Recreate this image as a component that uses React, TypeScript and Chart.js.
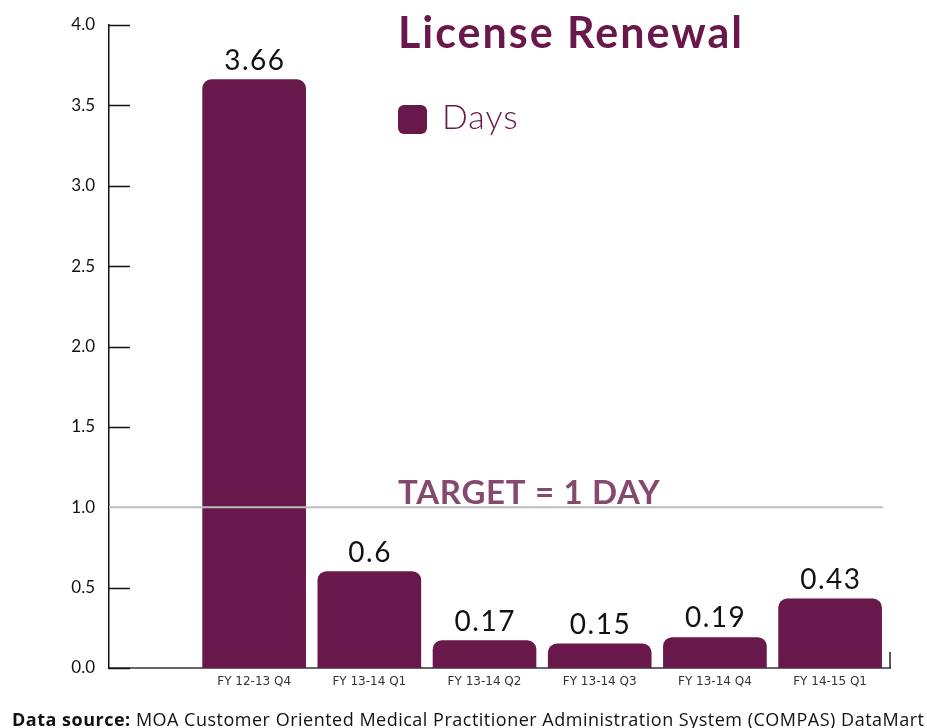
import React, { useEffect, useRef } from "react";
import { Chart, registerables } from "chart.js";

Chart.register(...registerables);

const categories = ["FY 12-13 Q4", "FY 13-14 Q1", "FY 13-14 Q2", "FY 13-14 Q3", "FY 13-14 Q4", "FY 14-15 Q1"];
const days = [3.66, 0.6, 0.17, 0.15, 0.19, 0.43];
const yTicks = [0, 0.5, 1, 1.5, 2, 2.5, 3, 3.5, 4];
const targetValue = 1;
const targetLabel = "TARGET = 1 DAY";
const titleText = "License Renewal";
const seriesName = "Days";
const sourceLabel = "Data source:";
const sourceText = "MOA Customer Oriented Medical Practitioner Administration System (COMPAS) DataMart";

const PURPLE = "#69184b";
const FONT = "'Lato', 'Open Sans', sans-serif";

const decorPlugin = {
  id: "decor",
  afterDatasetsDraw(chart: any) {
    const { ctx, chartArea, scales } = chart;
    const y = scales.y;
    ctx.save();
    // inward tick marks on y axis
    ctx.strokeStyle = "#111";
    ctx.lineWidth = 1.5;
    yTicks.forEach((t) => {
      if (t === targetValue) return;
      const py = Math.round(y.getPixelForValue(t)) + 0.5;
      ctx.beginPath();
      ctx.moveTo(chartArea.left, py);
      ctx.lineTo(chartArea.left + 21, py);
      ctx.stroke();
    });
    // right end tick of x axis
    ctx.strokeStyle = "#222";
    ctx.lineWidth = 1.5;
    ctx.beginPath();
    ctx.moveTo(chartArea.right, chartArea.bottom - 16);
    ctx.lineTo(chartArea.right, chartArea.bottom);
    ctx.stroke();
    // target line
    const ty = y.getPixelForValue(targetValue);
    ctx.strokeStyle = "#bdbdbd";
    ctx.lineWidth = 2;
    ctx.beginPath();
    ctx.moveTo(chartArea.left, ty);
    ctx.lineTo(chartArea.right - 7, ty);
    ctx.stroke();
    ctx.fillStyle = "#86496e";
    ctx.font = `bold 33px ${FONT}`;
    ctx.letterSpacing = "0.7px";
    ctx.textAlign = "left";
    ctx.textBaseline = "alphabetic";
    ctx.fillText(targetLabel, 398, ty - 3);
    // value labels
    const meta = chart.getDatasetMeta(0);
    ctx.fillStyle = "#111";
    ctx.font = `28px ${FONT}`;
    ctx.letterSpacing = "1.5px";
    ctx.textAlign = "center";
    meta.data.forEach((bar: any, i: number) => {
      ctx.fillText(String(days[i]), bar.x + 0.75, bar.y - 10);
    });
    ctx.restore();
  },
};

export default function App() {
  const canvasRef = useRef<HTMLCanvasElement | null>(null);

  useEffect(() => {
    if (!canvasRef.current) return;
    const chart = new Chart(canvasRef.current, {
      type: "bar",
      data: {
        datasets: [
          {
            label: seriesName,
            data: days.map((v, i) => ({ x: i, y: v })),
            backgroundColor: PURPLE,
            borderRadius: 9,
            barThickness: 103,
          },
        ],
      },
      options: {
        animation: false,
        responsive: true,
        maintainAspectRatio: false,
        layout: { padding: { top: 25, right: 37, left: 0, bottom: 0 } },
        plugins: {
          legend: { display: false },
          tooltip: { enabled: false },
          title: { display: false },
        },
        scales: {
          x: {
            type: "linear",
            offset: false,
            bounds: "data",
            min: -1.26,
            max: 5.52,
            afterBuildTicks: (scale: any) => {
              scale.ticks = categories.map((_, i) => ({ value: i }));
            },
            afterFit: (scale: any) => {
              scale.height = 60;
            },
            grid: { display: false, drawTicks: false, offset: false },
            border: { display: true, color: "#666", width: 2 },
            ticks: {
              autoSkip: false,
              maxRotation: 0,
              padding: 7,
              color: "#333",
              font: { family: "'DejaVu Sans', sans-serif", size: 12 },
              callback: (v: any) => categories[v] ?? "",
            },
          },
          y: {
            min: 0,
            max: 4,
            afterBuildTicks: (scale: any) => {
              scale.ticks = yTicks.map((v) => ({ value: v }));
            },
            afterFit: (scale: any) => {
              scale.width = 109;
            },
            grid: { display: false, drawTicks: false },
            border: { display: true, color: "#111", width: 1.5 },
            ticks: {
              padding: 14,
              color: "#111",
              font: { family: FONT, size: 17 },
              callback: (v: any) => Number(v).toFixed(1),
            },
          },
        },
      },
      plugins: [decorPlugin],
    } as any);
    return () => chart.destroy();
  }, []);

  return (
    <div style={{ position: "absolute", left: 0, top: 0, width: 927, height: 728, background: "#fff", overflow: "hidden" }}>
      <canvas ref={canvasRef} style={{ position: "absolute", left: 0, top: 0 }} />
      <div
        style={{
          position: "absolute",
          left: 398,
          top: 7,
          fontFamily: FONT,
          fontWeight: 700,
          fontSize: 43,
          letterSpacing: 2,
          color: PURPLE,
          whiteSpace: "nowrap",
          lineHeight: "50px",
        }}
      >
        {titleText}
      </div>
      <div style={{ position: "absolute", left: 398, top: 103, display: "flex", alignItems: "center" }}>
        <div style={{ width: 29, height: 29, borderRadius: 6, background: PURPLE }} />
        <span
          style={{
            marginLeft: 15,
            fontFamily: FONT,
            fontWeight: 300,
            fontSize: 34,
            letterSpacing: 1,
            color: PURPLE,
            lineHeight: "32px",
            position: "relative",
            top: -3,
          }}
        >
          {seriesName}
        </span>
      </div>
      <div
        style={{
          position: "absolute",
          left: 12,
          top: 708,
          fontFamily: "'Open Sans', sans-serif",
          fontSize: 18,
          letterSpacing: 0.5,
          color: "#111",
          whiteSpace: "nowrap",
          lineHeight: "22px",
        }}
      >
        <b>{sourceLabel}</b> {sourceText}
      </div>
    </div>
  );
}
